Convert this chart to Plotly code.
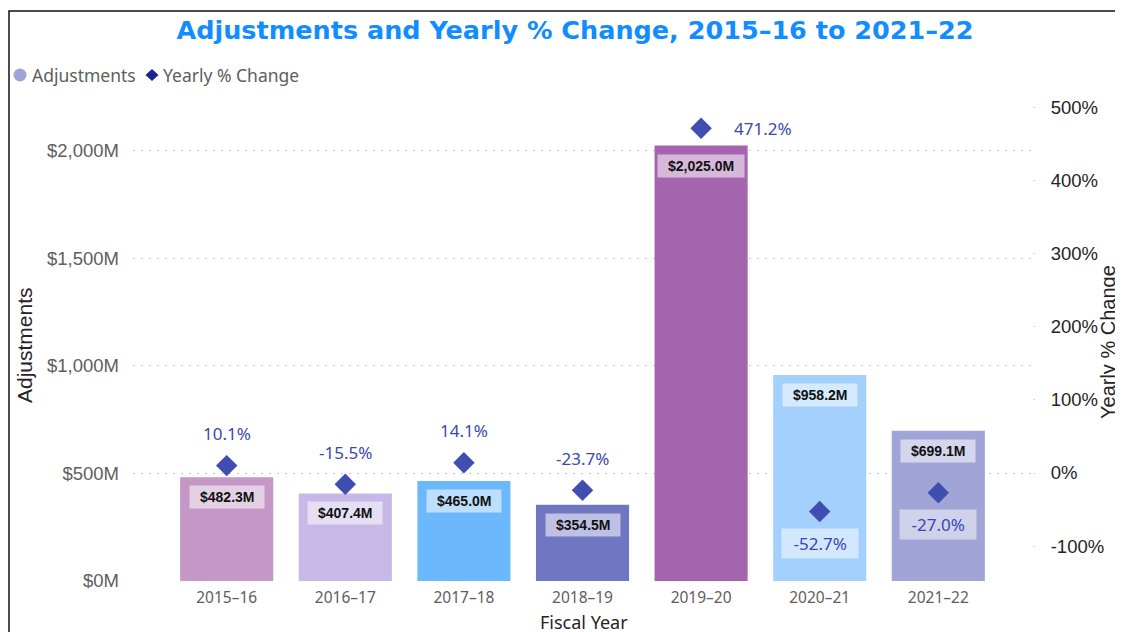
import plotly.graph_objects as go

categories = ["2015–16", "2016–17", "2017–18", "2018–19", "2019–20", "2020–21", "2021–22"]
adjustments = [482.3, 407.4, 465.0, 354.5, 2025.0, 958.2, 699.1]
yearly_change = [10.1, -15.5, 14.1, -23.7, 471.2, -52.7, -27.0]
bar_colors = ["#C497C6", "#C8B8E7", "#6CB8FC", "#6F77C2", "#A464AE", "#A3D0FD", "#A0A4D6"]
left_ticks = [0, 500, 1000, 1500, 2000]
right_ticks = [-100, 0, 100, 200, 300, 400, 500]

# page is drawn with an 8px body offset; all pixel numbers below are page pixels
OFF = 8
W, H = 1123, 632
ML, MR, MT, MB = 125, 99, 87, 59
PW, PH = W - ML - MR, H - MT - MB
PB = H - MB
Y1_RANGE = [0, 2260]
Y2_RANGE = [-147.6, 516.6]


def px(xp):
    return (xp - OFF - ML) / PW


def py(yp):
    return (PB - (yp - OFF)) / PH


fig = go.Figure()
fig.add_trace(go.Bar(
    x=categories, y=adjustments, marker=dict(color=bar_colors, line=dict(width=0)),
    showlegend=False, hoverinfo="x+y", name="Adjustments"))
fig.add_trace(go.Scatter(
    x=categories, y=yearly_change, mode="markers", yaxis="y2",
    marker=dict(symbol="diamond", size=16.5, color="#3F4EB0", line=dict(width=0)),
    showlegend=False, name="Yearly % Change"))

annotations = []
for c, v in zip(categories, adjustments):
    annotations.append(dict(
        x=c, y=v, xref="x", yref="y", text=f"\u2002<b>${v:,.1f}M</b>\u2002", showarrow=False,
        yshift=-20, font=dict(family="Liberation Sans, Arial", size=14, color="#111111"),
        bgcolor="rgba(255,255,255,0.55)", borderpad=3))

# placement of % labels
for c, p, v in zip(categories, yearly_change, adjustments):
    dy = MT + PH * (Y2_RANGE[1] - p) / (Y2_RANGE[1] - Y2_RANGE[0])
    by = MT + PH * (Y1_RANGE[1] - v) / (Y1_RANGE[1] - Y1_RANGE[0])
    txt = f"{p:.1f}%"
    base = dict(x=c, y=p, xref="x", yref="y2", text=txt, showarrow=False,
                font=dict(family="Noto Sans, Open Sans", size=17, color="#3B47B0"))
    if dy < MT + 60:
        base.update(xanchor="left", xshift=31)
    elif dy > by:
        base.update(yshift=-32, bgcolor="rgba(255,255,255,0.5)", borderpad=3)
        base["text"] = "\u2002" + txt + "\u2002"
    else:
        base.update(yshift=32)
    annotations.append(base)

# axis titles
annotations.append(dict(
    x=px(24), y=py(345), xref="paper", yref="paper", showarrow=False,
    text="Adjustments", textangle=-90,
    font=dict(family="Liberation Sans, Arial", size=21, color="#252423"),
    xanchor="center", yanchor="middle"))
annotations.append(dict(
    x=px(1108), y=py(342), xref="paper", yref="paper", showarrow=False,
    text="Yearly % Change", textangle=-90,
    font=dict(family="Liberation Sans, Arial", size=20, color="#252423"),
    xanchor="center", yanchor="middle"))
annotations.append(dict(
    x=px(584), y=py(622), xref="paper", yref="paper", showarrow=False,
    text="Fiscal Year",
    font=dict(family="Noto Sans, Open Sans", size=18, color="#252423"),
    xanchor="center", yanchor="middle"))

# legend (drawn by hand to match the compact spacing)
annotations.append(dict(
    x=px(30), y=py(75), xref="paper", yref="paper", showarrow=False, text="Adjustments",
    font=dict(family="Noto Sans, Open Sans", size=17.5, color="#605E5C"),
    xanchor="left", yanchor="middle"))
annotations.append(dict(
    x=px(161), y=py(75), xref="paper", yref="paper", showarrow=False, text="Yearly % Change",
    font=dict(family="Noto Sans, Open Sans", size=17.5, color="#605E5C"),
    xanchor="left", yanchor="middle"))

shapes = [
    dict(type="rect", xref="paper", yref="paper",
         x0=px(9), x1=1.3, y0=-0.3, y1=py(11),
         line=dict(color="#111111", width=1.5), fillcolor="rgba(0,0,0,0)", layer="below"),
    dict(type="circle", xref="paper", yref="paper",
         x0=px(13.5), x1=px(26.5), y0=py(81.5), y1=py(68.5),
         fillcolor="#A0A4D6", line=dict(width=0)),
    dict(type="path", xref="paper", yref="paper",
         path=(f"M {px(152)} {py(69)} L {px(158.5)} {py(75)} L {px(152)} {py(81)} "
               f"L {px(145.5)} {py(75)} Z"),
         fillcolor="#1A2390", line=dict(width=0)),
]

fig.update_layout(
    width=W, height=H, margin=dict(l=ML, r=MR, t=MT, b=MB, autoexpand=False),
    paper_bgcolor="white", plot_bgcolor="white",
    bargap=0.215, showlegend=False,
    title=dict(text="<b>Adjustments and Yearly % Change, 2015–16 to 2021–22</b>",
               xref="container", yref="container", x=(575 - OFF) / W, y=1 - (30 - OFF) / H,
               xanchor="center", yanchor="middle",
               font=dict(family="DejaVu Sans", size=25.5, color="#118DFF")),
    font=dict(family="Noto Sans, Open Sans", color="#605E5C"),
    xaxis=dict(
        range=[-0.79, 6.79], showgrid=False, zeroline=False, showline=False, automargin=False,
        ticklabelstandoff=5,
        tickfont=dict(family="Noto Sans, Open Sans", size=15.5, color="#605E5C")),
    yaxis=dict(
        range=Y1_RANGE, tickmode="array", tickvals=left_ticks,
        ticktext=[f"${t:,}M" for t in left_ticks], automargin=False,
        showgrid=True, gridcolor="#C8C8C8", griddash="2px,6px", gridwidth=1,
        zeroline=False, showline=False, ticklabelstandoff=13,
        tickfont=dict(family="Liberation Sans, Arial", size=18.5, color="#605E5C")),
    yaxis2=dict(
        range=Y2_RANGE, tickmode="array", tickvals=right_ticks,
        ticktext=[f"{t}%" for t in right_ticks], overlaying="y", side="right",
        showgrid=False, zeroline=False, showline=False, automargin=False,
        ticks="outside", ticklen=2, tickcolor="#D8D8D8", ticklabelstandoff=12,
        tickfont=dict(family="Liberation Sans, Arial", size=18.5, color="#252423")),
    annotations=annotations,
    shapes=shapes,
)

fig.write_html("out.html")
